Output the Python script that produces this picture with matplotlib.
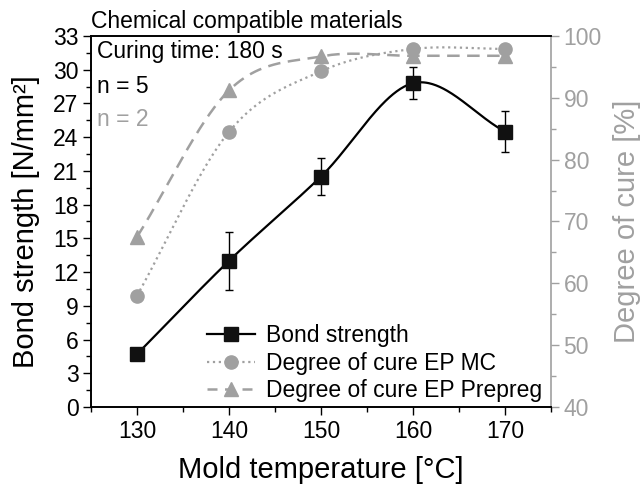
import numpy as np
import matplotlib
matplotlib.use("Agg")
import matplotlib.pyplot as plt
from matplotlib.ticker import MultipleLocator
from matplotlib.lines import Line2D

plt.rcParams['font.family'] = ['Liberation Sans', 'DejaVu Sans']

temps = [130, 140, 150, 160, 170]
bond = [4.7, 13.0, 20.5, 28.8, 24.5]
bond_err = [0.0, 2.55, 1.65, 1.4, 1.85]
cure_mc = [58.0, 84.5, 94.3, 97.9, 97.9]
cure_prepreg = [67.5, 91.2, 96.7, 96.8, 96.8]

GRAY = '#a0a0a0'
FS = 16.5
LFS = 21


def smooth(x, y, n=300):
    """Cubic Hermite (Catmull-Rom style) curve through the points."""
    x = np.asarray(x, float)
    y = np.asarray(y, float)
    t = np.zeros(len(x))
    t[1:-1] = (y[2:] - y[:-2]) / (x[2:] - x[:-2])
    t[0] = (y[1] - y[0]) / (x[1] - x[0])
    t[-1] = (y[-1] - y[-2]) / (x[-1] - x[-2])
    xs = np.linspace(x[0], x[-1], n)
    ys = np.empty_like(xs)
    for k, xv in enumerate(xs):
        i = min(np.searchsorted(x, xv, side='right') - 1, len(x) - 2)
        h = x[i + 1] - x[i]
        s = (xv - x[i]) / h
        h00 = 2 * s ** 3 - 3 * s ** 2 + 1
        h10 = s ** 3 - 2 * s ** 2 + s
        h01 = -2 * s ** 3 + 3 * s ** 2
        h11 = s ** 3 - s ** 2
        ys[k] = h00 * y[i] + h10 * h * t[i] + h01 * y[i + 1] + h11 * h * t[i + 1]
    return xs, ys


fig = plt.figure(figsize=(6.41, 4.86), dpi=100)
ax = fig.add_axes([91 / 641, 1 - 407 / 486, (551 - 91) / 641, (407 - 36) / 486])
ax2 = ax.twinx()

# right axis curves
xs, ys = smooth(temps, cure_mc)
ax2.plot(xs, ys, ':', color=GRAY, lw=1.6)
xs, ys = smooth(temps, cure_prepreg)
ax2.plot(xs, ys, '--', color=GRAY, lw=1.8, dashes=(5, 3))
ax2.plot(temps, cure_prepreg, '^', color=GRAY, ms=10, mec=GRAY)
ax2.plot(temps, cure_mc, 'o', color=GRAY, ms=9.5, mec=GRAY)

# bond strength
xs, ys = smooth(temps, bond)
ax.plot(xs, ys, '-', color='black', lw=1.6, zorder=3)
ax.errorbar(temps, bond, yerr=bond_err, fmt='s', color='#111111', ms=9.5,
            ecolor='black', elinewidth=1, capsize=3, capthick=1, zorder=4)

ax.set_zorder(ax2.get_zorder() + 1)
ax.patch.set_visible(False)

ax.set_xlim(125, 175)
ax.set_ylim(0, 33)
ax2.set_ylim(40, 100)
ax.set_xticks([130, 140, 150, 160, 170])
ax.xaxis.set_minor_locator(MultipleLocator(5))
ax.set_yticks(np.arange(0, 34, 3))
ax.yaxis.set_minor_locator(MultipleLocator(1.5))
ax2.set_yticks(np.arange(40, 101, 10))
ax2.yaxis.set_minor_locator(MultipleLocator(5))

ax.tick_params(axis='both', which='major', direction='out', length=6, width=1,
               labelsize=FS, pad=3)
ax.tick_params(axis='x', which='major', pad=3)
ax.tick_params(axis='both', which='minor', direction='out', length=3.5, width=1)
ax.tick_params(top=False, right=False, which='both')
ax2.tick_params(axis='y', which='major', direction='out', length=6, width=1,
                labelsize=FS, colors=GRAY, labelcolor=GRAY, pad=3)
ax2.tick_params(axis='y', which='minor', direction='out', length=3.5, width=1,
                colors=GRAY)

for a in (ax, ax2):
    for s in a.spines.values():
        s.set_linewidth(1.2)
ax2.spines['right'].set_color(GRAY)
ax.spines['right'].set_visible(False)

ax.set_xlabel('Mold temperature [°C]', fontsize=LFS, labelpad=10)
ax.set_ylabel('Bond strength [N/mm²]', fontsize=LFS, labelpad=9)
ax2.set_ylabel('Degree of cure [%]', fontsize=LFS, color=GRAY, labelpad=8)

ax.text(0.0, 1.008, 'Chemical compatible materials', transform=ax.transAxes,
        fontsize=FS, ha='left', va='bottom')
ax.text(0.013, 0.99, 'Curing time: 180 s', transform=ax.transAxes,
        fontsize=FS, ha='left', va='top')
ax.text(0.013, 0.895, 'n = 5', transform=ax.transAxes,
        fontsize=FS, ha='left', va='top')
ax.text(0.013, 0.805, 'n = 2', transform=ax.transAxes, color=GRAY,
        fontsize=FS, ha='left', va='top')

handles = [
    Line2D([], [], color='black', ls='-', lw=1.6, marker='s', ms=9.5,
           mfc='#111111', mec='#111111'),
    Line2D([], [], color=GRAY, ls=':', lw=1.6, marker='o', ms=9.5),
    Line2D([], [], color=GRAY, ls='--', lw=1.8, dashes=(4, 3), marker='^', ms=10),
]
labels = ['Bond strength', 'Degree of cure EP MC', 'Degree of cure EP Prepreg']
ax.legend(handles, labels, loc='lower right', frameon=False, fontsize=FS,
          handlelength=2.1, handletextpad=0.45, labelspacing=0.2,
          borderaxespad=0.0, bbox_to_anchor=(1.0, -0.012))

fig.savefig('out.png', dpi=100)
